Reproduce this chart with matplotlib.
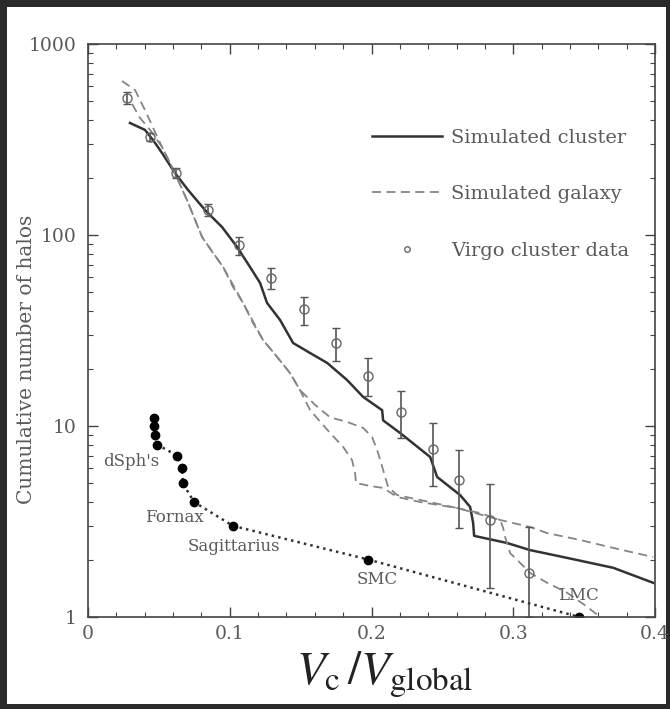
import numpy as np
import matplotlib.pyplot as plt
from matplotlib.patches import Rectangle

plt.rcParams['mathtext.fontset'] = 'stix'
plt.rcParams['font.family'] = 'DejaVu Serif'

# Simulated cluster (solid)
cluster_v = [0.0296, 0.0402, 0.0459, 0.0522, 0.0614, 0.0706, 0.0826, 0.0946, 0.1052, 0.1143,
             0.1214, 0.1263, 0.1355, 0.1447, 0.1567, 0.1687, 0.1828, 0.1941, 0.2075, 0.2082,
             0.2202, 0.2414, 0.2463, 0.2625, 0.2696, 0.2717, 0.2724, 0.2957, 0.3119, 0.3352,
             0.3705, 0.3987]
cluster_n = [386, 355, 314, 269, 211, 172, 135, 110, 86.5, 68,
             56.1, 44.1, 35.9, 27.2, 24.1, 21.4, 17.4, 14.2, 12.1, 10.7,
             9.19, 6.88, 5.41, 4.35, 3.77, 3.11, 2.66, 2.44, 2.24, 2.06,
             1.81, 1.51]

# Simulated galaxy (dashed), two runs
galaxy1_v = [0.024, 0.0332, 0.0402, 0.0473, 0.0522, 0.0593, 0.0635, 0.0699, 0.0755, 0.0805,
             0.0882, 0.0953, 0.1023, 0.1094, 0.1164, 0.1235, 0.1334, 0.1426, 0.1496, 0.1602,
             0.1708, 0.1828, 0.1941, 0.2004, 0.2040, 0.2082, 0.2117, 0.2181, 0.2343, 0.2604,
             0.2908, 0.2929, 0.2943, 0.2978, 0.3028, 0.3119, 0.3239, 0.338, 0.3522, 0.3613]
galaxy1_n = [640, 574, 451, 346, 289, 227, 194, 152, 120, 97.6,
             80.5, 68, 53.4, 44.1, 34.6, 28.2, 23.0, 18.9, 15.4, 12.9,
             11.1, 10.5, 9.77, 8.76, 7.49, 5.89, 4.79, 4.35, 4.10, 3.72,
             3.22, 2.92, 2.62, 2.16, 1.99, 1.70, 1.51, 1.34, 1.13, 1.0]

galaxy2_v = [0.0311, 0.0367, 0.0438, 0.0522, 0.0593, 0.0699, 0.0805, 0.0953, 0.1094, 0.1235,
             0.1334, 0.1426, 0.1496, 0.1567, 0.1708, 0.18, 0.1863, 0.1884, 0.1891, 0.199,
             0.2082, 0.2181, 0.2343, 0.2604, 0.2766, 0.2908, 0.3119, 0.3239, 0.3472, 0.3705,
             0.3987]
galaxy2_n = [485, 410, 355, 289, 227, 152, 97.6, 68, 44.1, 28.2,
             23.0, 18.9, 15.4, 12.1, 9.19, 7.77, 6.63, 5.67, 5.03, 4.85,
             4.74, 4.25, 4.00, 3.72, 3.50, 3.22, 2.96, 2.75, 2.53, 2.30,
             2.06]

# Virgo cluster data with error bars
virgo_v = [0.0275, 0.0438, 0.0621, 0.0847, 0.1066, 0.1291, 0.1524, 0.175, 0.1976, 0.2209,
           0.2435, 0.2618, 0.2837, 0.3112]
virgo_n = [521, 326, 211, 135, 88.7, 59.6, 41.0, 27.2, 18.3, 11.8,
           7.58, 5.22, 3.22, 1.70]
virgo_hi = [561, 342, 224, 145, 97.6, 67.2, 47.4, 32.6, 22.7, 15.3,
            10.4, 7.49, 4.97, 2.96]
virgo_lo = [485, 311, 199, 126, 78.6, 52.2, 33.8, 21.9, 14.4, 8.65,
            4.85, 2.92, 1.42, 1.0]

# Milky Way satellites
sat_v = [0.0466, 0.0466, 0.0473, 0.0487, 0.0628, 0.0663, 0.067, 0.0748, 0.1023, 0.1976, 0.3465]
sat_n = [11, 10, 9, 8, 7, 6, 5, 4, 3, 2, 1]
sat_labels = ["dSph's", "Fornax", "Sagittarius", "SMC", "LMC"]
sat_label_v = [0.0106, 0.0402, 0.0706, 0.1898, 0.3317]
sat_label_n = [6.48, 3.30, 2.33, 1.58, 1.30]

fig = plt.figure(figsize=(6.7, 7.09), dpi=100)
fig.patch.set_facecolor('#2a2a2a')
fig.patches.append(Rectangle((7 / 670, 5 / 709), 659 / 670, 697 / 709,
                             transform=fig.transFigure, facecolor='white',
                             edgecolor='none', zorder=-10))
ax = fig.add_axes([88 / 670, 1 - 617 / 709, 567 / 670, 573 / 709])

txt = '#5a5a5a'

ax.plot(cluster_v, cluster_n, color='#333333', lw=1.8, label='Simulated cluster')
ax.plot(galaxy1_v, galaxy1_n, color='#858585', lw=1.3, dashes=(5, 3),
        label='Simulated galaxy')
ax.plot(galaxy2_v, galaxy2_n, color='#858585', lw=1.3, dashes=(5, 3))

err = [np.array(virgo_n) - np.array(virgo_lo), np.array(virgo_hi) - np.array(virgo_n)]
ax.errorbar(virgo_v, virgo_n, yerr=err, fmt='o', mfc='none', mec='#666666', ms=6.5,
            mew=1, ecolor='#555555', elinewidth=1.2, capsize=3, capthick=1.2)
# legend proxy for the Virgo points
ax.plot([], [], 'o', mfc='none', mec='#666666', ms=4, mew=1, label='Virgo cluster data')

ax.plot(sat_v, sat_n, color='#333333', lw=1.8, ls=':', marker='o', ms=6,
        mfc='black', mec='black')
for s, x, y in zip(sat_labels, sat_label_v, sat_label_n):
    ax.text(x, y, s, color=txt, fontsize=12, va='center', ha='left')

ax.set_yscale('log')
ax.set_xlim(0, 0.4)
ax.set_ylim(1, 1000)
ax.set_xticks([0, 0.1, 0.2, 0.3, 0.4])
ax.set_xticklabels(['0', '0.1', '0.2', '0.3', '0.4'])
ax.set_xticks(np.arange(0, 0.401, 0.02), minor=True)
ax.set_yticks([1, 10, 100, 1000])
ax.set_yticklabels(['1', '10', '100', '1000'])
ax.tick_params(which='both', direction='in', top=True, right=True, colors='#444444',
               labelcolor=txt, labelsize=13.5)
ax.tick_params(which='major', length=7, width=1)
ax.tick_params(which='minor', length=3.5, width=0.8)
ax.tick_params(axis='y', pad=8)
ax.tick_params(axis='x', pad=6)
for sp in ax.spines.values():
    sp.set_color('#444444')
    sp.set_linewidth(1.2)

ax.set_ylabel('Cumulative number of halos', color=txt, fontsize=14.5)
ax.yaxis.set_label_coords(-0.092, 0.45)
fig.text(385 / 670, 1 - 675 / 709, r'$V_{\rm c}\,/V_{\rm global}$', fontsize=34,
         ha='center', va='center', color='#222222')

leg = ax.legend(loc='upper left', bbox_to_anchor=(0.50, 0.852), frameon=False,
                fontsize=14, handlelength=3.6, handletextpad=0.5, labelspacing=1.98,
                borderpad=0, borderaxespad=0, numpoints=1)
for t in leg.get_texts():
    t.set_color(txt)

fig.savefig('out.png', dpi=100, facecolor=fig.get_facecolor())
